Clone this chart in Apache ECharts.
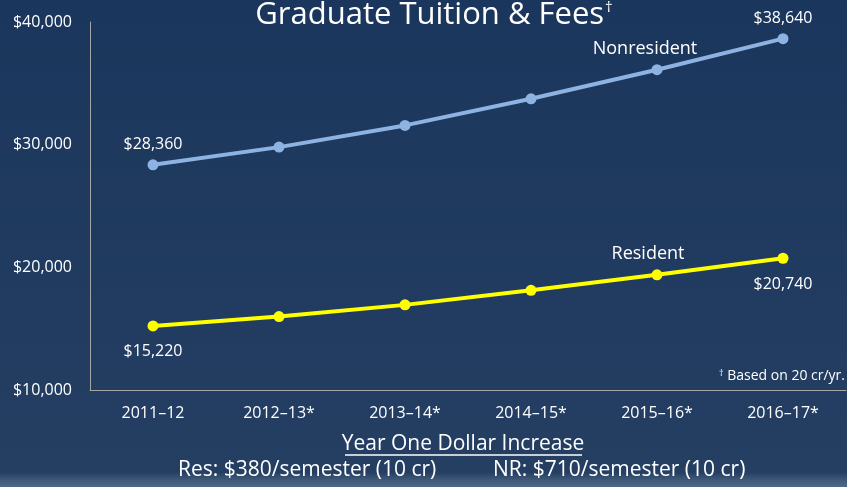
<!DOCTYPE html>
<html>
<head>
<meta charset="utf-8">
<script src="https://cdn.jsdelivr.net/npm/echarts@6/dist/echarts.min.js"></script>
<style>
html,body{margin:0;padding:0;background:#1c375c;}
#main{width:847px;height:487px;}
</style>
</head>
<body>
<div id="main"></div>
<script>
const categories = ['2011–12', '2012–13*', '2013–14*', '2014–15*', '2015–16*', '2016–17*'];
const nonresident = [28360, 29800, 31570, 33740, 36110, 38640];
const resident = [15220, 15990, 16940, 18130, 19390, 20740];
const yTicks = [10000, 20000, 30000, 40000];
const titleText = 'Graduate Tuition & Fees';
const footnote = 'Based on 20 cr/yr.';
const subTitle = 'Year One Dollar Increase';
const resNote = 'Res: $380/semester (10 cr)';
const nrNote = 'NR: $710/semester (10 cr)';

const FONT = '"Open Sans", "Noto Sans", sans-serif';
const fmt = v => '$' + v.toLocaleString('en-US');

function buildData(values, special) {
  return values.map((v, i) => {
    const d = { value: v };
    if (special[i]) d.label = special[i];
    return d;
  });
}

const valLabel = { show: true, fontSize: 16, formatter: p => fmt(p.value) };
const nameLabel = { show: true, fontSize: 18 };

const nrLabels = {
  0: Object.assign({}, valLabel, { position: 'top', distance: 7 }),
  4: Object.assign({}, nameLabel, { position: 'top', distance: 6, offset: [-12, 0], formatter: 'Nonresident' }),
  5: Object.assign({}, valLabel, { position: 'top', distance: 7 })
};
const resLabels = {
  0: Object.assign({}, valLabel, { position: 'bottom', distance: 12 }),
  4: Object.assign({}, nameLabel, { position: 'top', distance: 6, offset: [-9, 0], formatter: 'Resident' }),
  5: Object.assign({}, valLabel, { position: 'bottom', distance: 13 })
};

const chart = echarts.init(document.getElementById('main'), null, { renderer: 'canvas' });
chart.setOption({
  backgroundColor: {
    type: 'linear', x: 0, y: 0, x2: 0, y2: 1,
    colorStops: [
      { offset: 0, color: '#1b365c' },
      { offset: 0.97, color: '#253f63' },
      { offset: 0.985, color: '#3e5878' },
      { offset: 1, color: '#4f6888' }
    ]
  },
  animation: false,
  title: {
    text: '{a|' + titleText + '}{b|†}',
    left: 429, textAlign: 'center', top: -5,
    textStyle: {
      rich: {
        a: { fontFamily: FONT, fontSize: 31, fontWeight: 'normal', color: '#ffffff' },
        b: { fontFamily: FONT, fontSize: 15, fontWeight: 'normal', color: '#ffffff', verticalAlign: 'top', padding: [0, 0, 14, 1] }
      }
    }
  },
  grid: { left: 90, right: 1, top: 22, bottom: 97, containLabel: false },
  xAxis: {
    type: 'category',
    data: categories,
    boundaryGap: true,
    axisLine: { show: true, lineStyle: { color: '#a6a6a6', width: 1 } },
    axisTick: { show: false },
    axisLabel: { color: '#ffffff', fontFamily: FONT, fontSize: 16, margin: 15 },
    splitLine: { show: false }
  },
  yAxis: {
    type: 'value',
    min: yTicks[0], max: yTicks[yTicks.length - 1], interval: 10000,
    axisLine: { show: true, lineStyle: { color: '#a6a6a6', width: 1 } },
    axisTick: { show: false },
    splitLine: { show: false },
    axisLabel: { color: '#ffffff', fontFamily: FONT, fontSize: 16, margin: 18, formatter: v => fmt(v) }
  },
  series: [
    {
      name: 'Nonresident', type: 'line',
      data: buildData(nonresident, nrLabels),
      symbol: 'circle', symbolSize: 11,
      lineStyle: { color: '#8db3e2', width: 4 },
      itemStyle: { color: '#8db3e2' },
      label: { show: false, color: '#ffffff', fontFamily: FONT, fontSize: 16 }
    },
    {
      name: 'Resident', type: 'line',
      data: buildData(resident, resLabels),
      symbol: 'circle', symbolSize: 11,
      lineStyle: { color: '#ffff00', width: 4 },
      itemStyle: { color: '#ffff00' },
      label: { show: false, color: '#ffffff', fontFamily: FONT, fontSize: 16 }
    }
  ],
  graphic: [
    {
      type: 'text', x: 845, y: 376,
      style: {
        text: '{s|†}{t| ' + footnote + '}',
        align: 'right', verticalAlign: 'middle',
        rich: {
          s: { fontFamily: FONT, fontSize: 9, fill: '#ffffff', verticalAlign: 'top', padding: [0, 0, 6, 0] },
          t: { fontFamily: FONT, fontSize: 14, fill: '#ffffff' }
        }
      }
    },
    {
      type: 'text', x: 463, y: 444,
      style: { text: subTitle, fontFamily: FONT, fontSize: 21, fill: '#ffffff', align: 'center', verticalAlign: 'middle' }
    },
    {
      type: 'line', shape: { x1: 345, y1: 455, x2: 582, y2: 455 },
      style: { stroke: '#ffffff', lineWidth: 1.3 }
    },
    {
      type: 'text', x: 178, y: 470,
      style: { text: resNote, fontFamily: FONT, fontSize: 21, fill: '#ffffff', verticalAlign: 'middle' }
    },
    {
      type: 'text', x: 493, y: 470,
      style: { text: nrNote, fontFamily: FONT, fontSize: 21, fill: '#ffffff', verticalAlign: 'middle' }
    }
  ]
});
</script>
</body>
</html>
